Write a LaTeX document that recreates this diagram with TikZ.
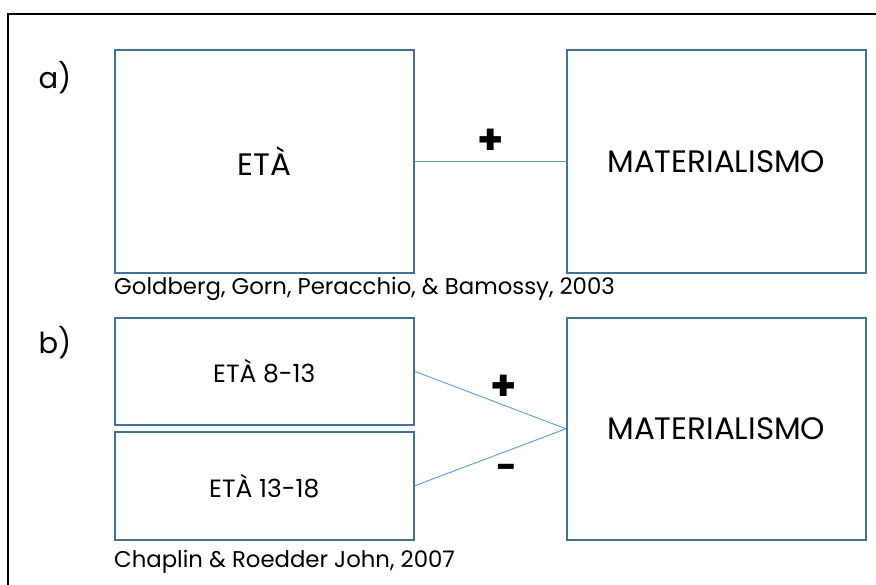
\documentclass[tikz,border=0pt]{standalone}
\usepackage{fontspec}
\setmainfont{Poppins}
\definecolor{boxline}{HTML}{41719C}
\definecolor{linkline}{HTML}{5B9BD5}
\begin{document}
\begin{tikzpicture}[x=1pt,y=-1pt,
  varbox/.style={draw=boxline,line width=1.6pt,minimum width=299pt,inner sep=0pt,anchor=north west},
  link/.style={draw=linkline,line width=0.9pt},
  bigtxt/.style={font=\fontsize{31}{36}\selectfont},
  midtxt/.style={font=\fontsize{25}{30}\selectfont},
  reftxt/.style={font=\fontsize{22.8}{26}\selectfont,anchor=west,inner sep=0pt},
  tag/.style={font=\fontsize{29}{34}\selectfont,inner sep=0pt},
  sign/.style={font=\bfseries\fontsize{42}{46}\selectfont,inner sep=0pt},
  dashsign/.style={font=\bfseries\fontsize{36}{40}\selectfont,inner sep=0pt}]
\useasboundingbox (0,0) rectangle (876,585);
% outer frame
\draw[line width=1.6pt] (8,600) -- (8,14) -- (890,14);

% a) single age variable
\node[tag] (la) at (55,78) {a)};
\node[varbox,minimum height=223pt] (eta) at (114,49) {};
\node[bigtxt] at (eta.center) {ETÀ};
\node[varbox,minimum height=223pt] (mata) at (566,49) {};
\node[bigtxt] at (mata.center) {MATERIALISMO};
\draw[link] (eta.east) -- (mata.west);
\node[sign] (pa) at (491,142) {+};
\node[reftxt] (ra) at (114,289) {Goldberg, Gorn, Peracchio, \& Bamossy, 2003};

% b) two age groups
\node[tag] (lb) at (55,343) {b)};
\node[varbox,minimum height=107pt] (e1) at (114,317) {};
\node[midtxt] at (e1.center) {ETÀ 8-13};
\node[varbox,minimum height=108pt] (e2) at (114,431) {};
\node[midtxt] at (e2.center) {ETÀ 13-18};
\node[varbox,minimum height=222pt] (matb) at (566,317) {};
\node[bigtxt] at (matb.center) {MATERIALISMO};
\draw[link] (e1.east) -- (matb.west);
\draw[link] (e2.east) -- (matb.west);
\node[sign] (pb) at (504,388) {+};
\node[dashsign] (mb) at (507,472) {-};
\node[reftxt] (rb) at (114,562) {Chaplin \& Roedder John, 2007};
\end{tikzpicture}
\end{document}
